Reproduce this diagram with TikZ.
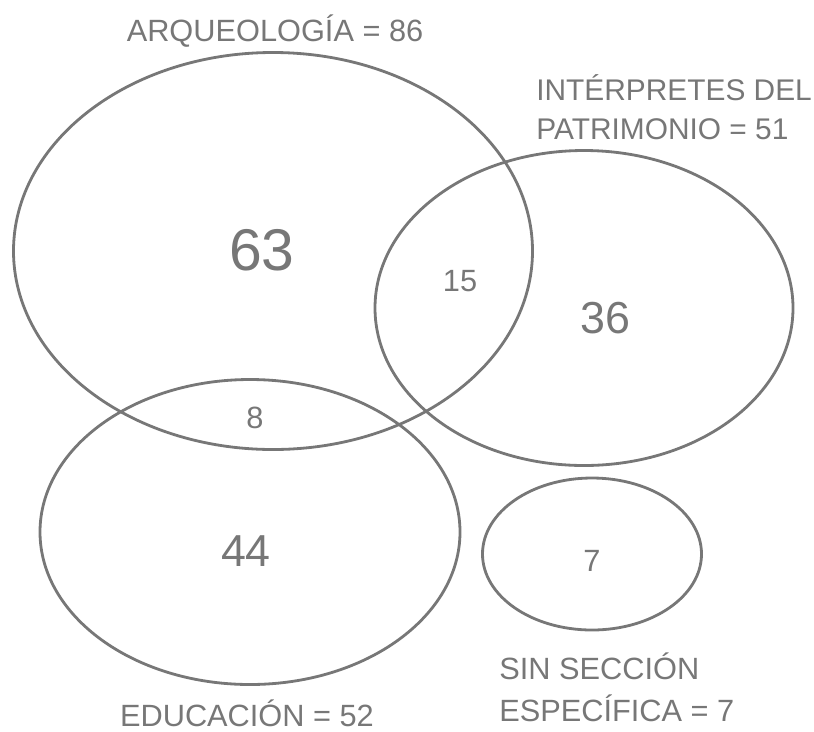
\documentclass[tikz,border=0pt]{standalone}
\usepackage{fontspec}
\setmainfont{Liberation Sans}
\usetikzlibrary{shapes.geometric}
\definecolor{vgray}{HTML}{777777}

\tikzset{
  set/.style={ellipse, draw=vgray, line width=1.6pt, inner sep=0pt},
  lbl/.style={text=vgray, font=\fontsize{17.5}{21}\selectfont, inner sep=0pt},
  big/.style={text=vgray, font=\fontsize{25.5}{30}\selectfont, inner sep=0pt},
}

\begin{document}
\begin{tikzpicture}[x=0.02cm, y=-0.02cm]
\useasboundingbox (0,0) rectangle (814,731);
% conjuntos
\node[set, minimum width=519*0.02cm, minimum height=397*0.02cm] (arq) at (273,251) {};
\node[set, minimum width=418*0.02cm, minimum height=315*0.02cm] (int) at (584,308) {};
\node[set, minimum width=420*0.02cm, minimum height=305*0.02cm] (edu) at (250,532) {};
\node[set, minimum width=219*0.02cm, minimum height=152*0.02cm] (sin) at (592,554) {};
% cantidades
\node[text=vgray, font=\fontsize{33.5}{38}\selectfont, inner sep=0pt] (n63) at (262,250) {63};
\node[lbl] (n15) at (460,281) {15};
\node[big] (n36) at (605,318) {36};
\node[lbl] (n8) at (255,418) {8};
\node[big] (n44) at (246,551) {44};
\node[lbl] (n7) at (592,561) {7};
% titulos
\node[lbl] (tarq) at (275,31) {ARQUEOLOGÍA = 86};
\node[lbl, anchor=west, align=left, font=\fontsize{17}{22.5}\selectfont] (tint) at (536,107) {INTÉRPRETES DEL\\PATRIMONIO = 51};
\node[lbl, anchor=west, align=left, font=\fontsize{17.5}{24}\selectfont] (tsin) at (499,687) {SIN SECCIÓN\\ESPECÍFICA = 7};
\node[lbl] (tedu) at (247,713) {EDUCACIÓN = 52};
\end{tikzpicture}
\end{document}
